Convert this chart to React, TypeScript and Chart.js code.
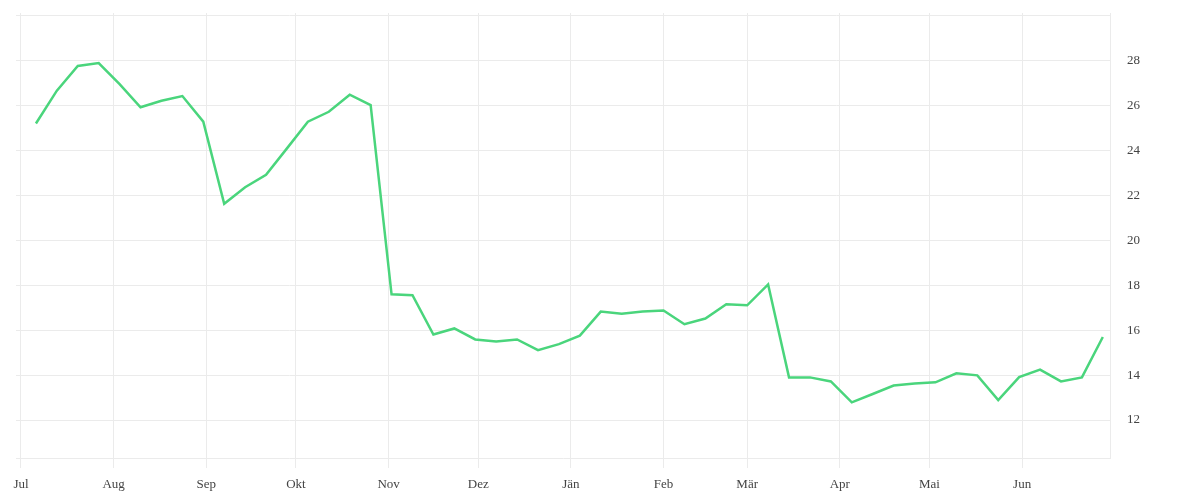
import { useEffect, useRef } from 'react'
import { Chart, registerables } from 'chart.js'

Chart.register(...registerables)

// days counted from 1 Jul; one reading per week
const startDay = 5
const values = [
  25.21, 26.67, 27.77, 27.9, 26.96, 25.93, 26.22, 26.43, 25.29, 21.63,
  22.37, 22.92, 24.1, 25.29, 25.73, 26.49, 26.03, 17.6, 17.56, 15.81,
  16.08, 15.59, 15.5, 15.59, 15.11, 15.38, 15.76, 16.83, 16.74, 16.83,
  16.88, 16.27, 16.52, 17.16, 17.11, 18.04, 13.9, 13.9, 13.72, 12.79,
  13.16, 13.54, 13.63, 13.68, 14.08, 13.99, 12.89, 13.91, 14.25, 13.72,
  13.9, 15.7,
]
const monthLabels = ['Jul', 'Aug', 'Sep', 'Okt', 'Nov', 'Dez', 'Jän', 'Feb', 'Mär', 'Apr', 'Mai', 'Jun']
const monthStarts = [0, 31, 62, 92, 123, 153, 184, 215, 243, 274, 304, 335]
const yTicks = [12, 14, 16, 18, 20, 22, 24, 26, 28, 30]

const gridColor = '#ebebeb'
const textColor = '#444444'

export default function App() {
  const canvasRef = useRef<HTMLCanvasElement>(null)
  const chartRef = useRef<Chart | null>(null)

  useEffect(() => {
    if (!canvasRef.current) return
    if (chartRef.current) chartRef.current.destroy()

    const points = values.map((v, i) => ({ x: startDay + i * 7, y: v }))

    chartRef.current = new Chart(canvasRef.current, {
      type: 'line',
      data: {
        datasets: [
          {
            data: points,
            borderColor: '#4ad57c',
            borderWidth: 2.5,
            pointRadius: 0,
            tension: 0,
            fill: false,
          },
        ],
      },
      options: {
        animation: false,
        responsive: true,
        maintainAspectRatio: false,
        layout: { padding: { left: 16, top: 13, right: 0, bottom: 0 } },
        plugins: {
          legend: { display: false },
          tooltip: { enabled: false },
        },
        font: { family: '"Liberation Serif", serif', size: 13 },
        scales: {
          x: {
            type: 'linear',
            min: -1.67,
            max: 364.4,
            afterBuildTicks: (scale: any) => {
              scale.ticks = monthStarts.map((d) => ({ value: d }))
            },
            afterFit: (scale: any) => {
              scale.height = 42
              scale.paddingLeft = 0
              scale.paddingRight = 0
            },
            grid: { color: gridColor, tickLength: 10, drawTicks: true },
            border: { display: true, color: gridColor },
            ticks: {
              autoSkip: false,
              maxRotation: 0,
              padding: 9,
              color: textColor,
              font: { family: '"Liberation Serif", serif', size: 13 },
              callback: (value: any) => {
                const i = monthStarts.indexOf(Number(value))
                return i >= 0 ? monthLabels[i] : ''
              },
            },
          },
          y: {
            type: 'linear',
            position: 'right',
            min: 10.31,
            max: 30.13,
            afterBuildTicks: (scale: any) => {
              scale.ticks = yTicks.map((v) => ({ value: v }))
            },
            afterFit: (scale: any) => {
              scale.width = 90
              scale.paddingTop = 0
              scale.paddingBottom = 0
            },
            grid: { color: gridColor, drawTicks: false },
            border: { display: true, color: gridColor },
            ticks: {
              padding: 17,
              color: textColor,
              font: { family: '"Liberation Serif", serif', size: 13 },
              callback: (value: any) => (Number(value) >= 30 ? '' : String(value)),
            },
          },
        },
      },
    })

    return () => {
      if (chartRef.current) {
        chartRef.current.destroy()
        chartRef.current = null
      }
    }
  }, [])

  return (
    <div style={{ position: 'fixed', left: 0, top: 0, width: 1200, height: 500, background: '#fff' }}>
      <canvas ref={canvasRef} />
    </div>
  )
}
